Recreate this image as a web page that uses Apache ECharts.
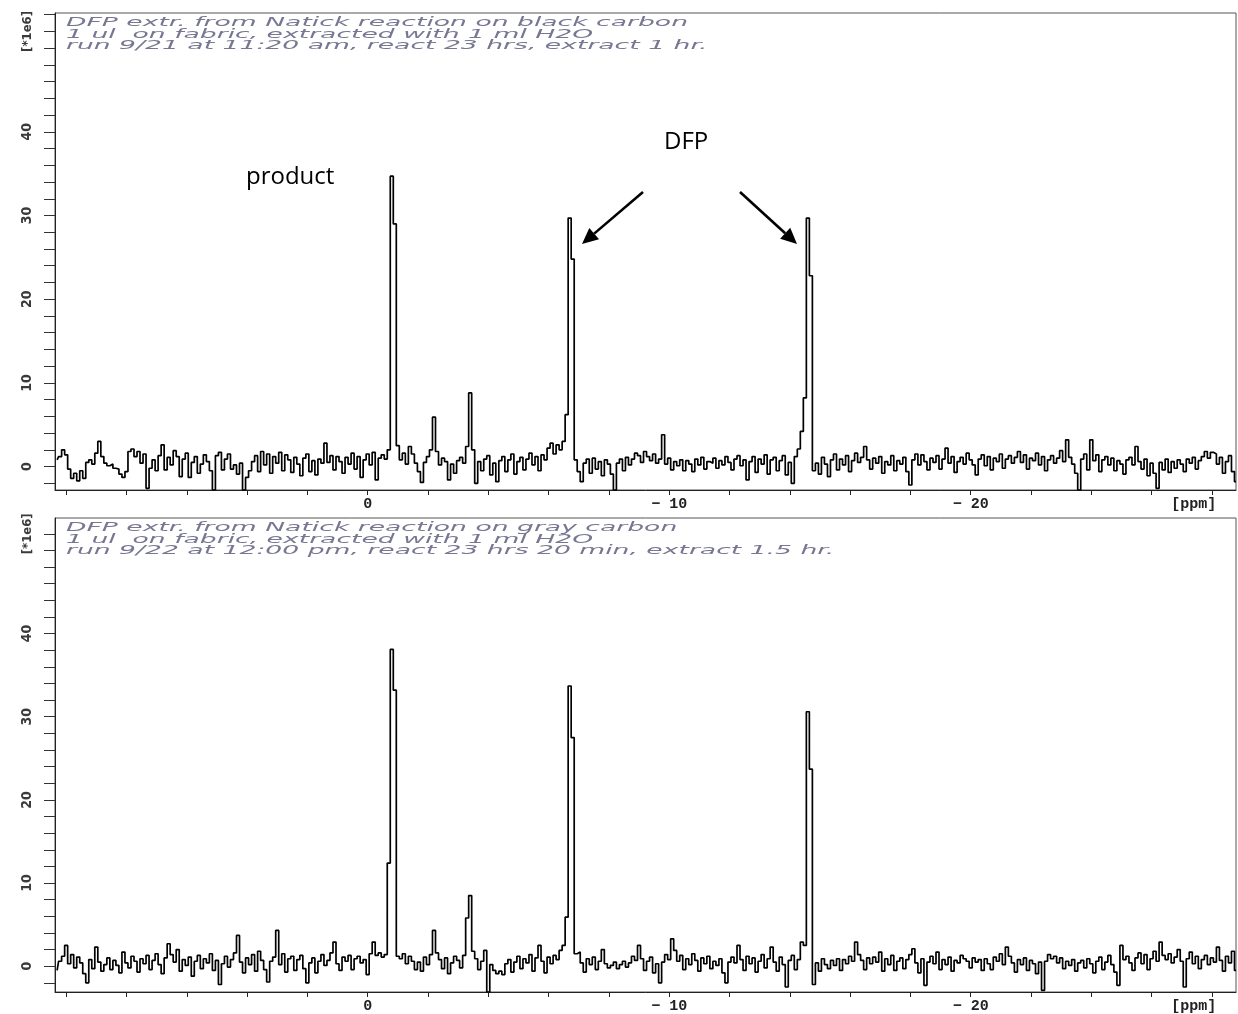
<!DOCTYPE html>
<html>
<head>
<meta charset="utf-8">
<script src="https://cdn.jsdelivr.net/npm/echarts@6/dist/echarts.min.js"></script>
<style>
html,body{margin:0;padding:0;background:#fff;}
#chart{width:1238px;height:1014px;}
</style>
</head>
<body>
<div id="chart"></div>
<script>
// ppm sampling grid (uniform NMR acquisition grid)
const ppmStart = 10.3;
const ppmStep = 0.1;

// Top panel: black carbon (intensity, *1e6)
const blackCarbon = [
 0.8, 1.2, 2.0, 1.4, -0.3, -1.4, -0.8, -1.7, -0.5, -1.4,
 0.5, 0.8, 0.3, 1.6, 3.0, 1.2, 0.4, 0.1, 0.3, -0.2,
 -0.3, -0.9, -1.3, -0.6, 1.8, 2.1, 1.2, 1.8, 0.4, 1.5,
 -2.6, -0.2, 0.8, -0.5, 1.3, 2.6, -0.4, 1.1, 0.2, 1.9,
 1.2, -1.2, 0.9, 1.6, -1.3, 0.5, 1.2, -0.8, 0.3, 1.4,
 0.6, -0.5, -2.8, 1.3, 1.7, -0.4, 0.9, 1.5, -0.3, 0.2,
 -0.9, 0.4, -2.8, -1.3, -0.5, 0.6, 1.3, -0.6, 1.8, 0.2,
 1.5, -0.8, 1.2, 0.4, 1.7, -0.5, 1.4, 0.8, -0.7, 1.1,
 0.3, -1.1, 1.0, 1.5, -0.6, 0.7, -1.0, 0.9, 0.4, 2.8,
 0.5, 1.3, -0.4, 1.2, 0.6, -0.8, 1.1, 0.3, 1.6, -0.3,
 1.2, -1.3, 0.8, 1.5, 0.2, 1.7, -1.6, 1.0, 1.4, 0.9,
 2.0, 34.7, 29.0, 2.5, 0.8, 1.6, 0.3, 2.4, 1.5, 0.4,
 -0.6, -1.9, 0.5, 1.2, 2.0, 5.9, 1.8, 0.2, 1.0, 0.6,
 -1.6, 0.3, -0.8, 0.7, 1.1, 0.4, 2.4, 8.8, 2.0, -2.0,
 0.6, -0.5, 0.9, 1.3, -1.0, 0.4, -1.8, 0.7, 1.2, -0.6,
 0.8, 1.5, -0.9, 0.6, 1.1, -0.4, 0.9, 1.6, 0.2, 1.2,
 -0.5, 1.4, 0.8, 2.2, 2.8, 1.5, 2.6, 2.0, 3.0, 6.2,
 29.7, 24.8, 0.8, -0.6, -1.8, 0.4, 0.9, -0.8, 1.0, -0.3,
 0.6, -1.1, 0.8, 0.3, -0.9, -2.8, 0.4, 0.9, -0.5, 1.1,
 0.2, 0.9, 1.6, 1.3, 0.5, 1.8, 1.2, 0.7, 1.5, 0.4,
 0.9, 3.8, 0.3, 1.0, -0.4, 0.6, 0.1, 0.8, -0.5, 0.7,
 0.3, -0.6, 0.9, 0.2, 1.1, -0.3, 0.6, 0.4, 1.0, -0.2,
 0.7, 0.2, 1.2, 0.5, -0.4, 0.9, 1.3, 0.1, 0.8, -1.6,
 0.6, 1.2, -0.7, 0.9, 0.3, 1.4, -0.9, 0.8, 1.1, -0.5,
 0.7, 1.3, -1.0, 0.5, -2.0, 1.2, 2.1, 4.2, 8.2, 29.7,
 22.8, -0.5, 0.4, -0.9, 1.1, 0.3, -1.2, 0.8, 1.5, -0.4,
 0.9, 0.2, 1.3, -0.6, 0.7, 1.6, 0.5, 1.1, 2.4, 0.8,
 -0.3, 1.0, 0.4, 1.2, -0.8, 0.6, 0.2, 1.3, -0.5, 0.7,
 0.3, 1.1, -0.6, -2.2, 0.8, 1.5, 0.2, 1.4, 0.6, -0.4,
 1.0, 0.5, 1.3, -0.3, 0.9, 2.2, 0.4, 1.2, -0.7, 0.6,
 1.1, 0.3, 1.6, 0.8, 0.2, -1.0, 0.9, 1.4, 0.1, 1.2,
 -0.4, 1.0, 0.6, 1.5, -0.2, 0.9, 1.3, 0.4, 1.1, 1.8,
 0.5, 1.4, -0.3, 1.0, 0.7, 1.6, 0.2, 1.2, -0.5, 0.8,
 1.3, 0.4, 1.0, 1.9, 0.6, 3.2, 1.1, 0.3, -0.8, -2.8,
 0.9, 1.5, -0.4, 3.2, 0.7, 1.4, -0.6, 0.8, 1.2, 0.2,
 1.0, -0.5, 0.7, 0.3, -0.9, 0.8, 1.1, 0.2, 2.4, 0.6,
 -0.3, 0.9, -1.1, 0.4, -0.8, -2.6, 0.5, -0.4, 0.9, -0.7,
 0.6, -0.2, 0.8, 0.3, -0.6, 0.9, 0.4, 1.1, -0.3, 0.7,
 1.2, 1.8, 1.0, 1.7, 1.5, 0.3, 1.1, -0.8, 0.6, 1.3,
 -0.6, -1.8
];

// Bottom panel: gray carbon (intensity, *1e6)
const grayCarbon = [
 -0.5, 0.6, 1.2, 2.5, 0.3, 1.4, -0.2, 1.1, 0.4, -0.9,
 -2.0, 0.8, -0.3, 2.3, 0.5, -0.6, 0.2, 1.0, -0.4, 0.7,
 0.1, -0.8, 1.7, 0.4, -0.2, 1.2, 0.6, -0.7, 0.9, 0.3,
 1.3, -0.4, 0.7, 1.5, 0.2, -0.9, 1.0, 2.7, 1.4, 0.5,
 2.0, -0.6, 0.8, 0.1, 1.1, -1.2, 0.6, 1.3, -0.3, 0.9,
 0.4, 1.5, -0.5, 0.7, -2.2, 0.3, 1.2, -0.1, 0.8, 1.6,
 3.7, 0.5, -0.8, 1.0, 0.2, 1.4, -0.6, 1.8, 0.7, -0.4,
 -1.9, 0.6, 1.1, 4.3, 0.2, 1.5, -0.7, 0.9, 1.2, -0.5,
 0.8, 1.3, -0.3, -2.0, 0.4, 1.0, -0.8, 0.6, 1.4, 0.1,
 0.7, 1.6, 2.9, 0.3, -0.5, 1.1, 0.6, 1.3, -0.4, 0.9,
 1.2, 0.4, 0.8, -1.0, 1.5, 2.9, 1.3, 1.6, 1.1, 1.4,
 12.4, 38.1, 33.2, 1.2, 0.9, 1.5, 0.3, 1.2, 0.6, -0.4,
 0.5, -0.6, 1.1, 0.2, 1.4, 4.3, 1.6, 0.8, -0.3, 1.0,
 -0.9, 0.4, 1.2, 0.7, -0.2, 1.3, 5.8, 8.5, 1.8, 0.9,
 -0.4, 0.6, 1.9, -3.1, 0.2, -0.5, -0.9, -0.6, -1.0, 0.3,
 0.8, -0.7, 0.5, 1.2, -0.3, 0.9, 0.4, 1.4, -0.6, 1.0,
 2.5, 0.6, -0.8, 1.1, 0.3, 1.3, 0.8, 1.9, 2.5, 5.9,
 33.7, 27.5, 1.5, 1.7, 0.4, -0.7, 0.9, 0.2, 1.1, -0.4,
 0.6, 2.0, 0.3, -0.2, 0.1, 0.5, -0.3, 0.2, 0.6, -0.1,
 0.4, 1.2, 0.7, 2.5, 0.9, -0.5, 0.6, 1.1, -0.8, 0.3,
 -2.0, 0.5, 1.4, 0.8, 3.3, 1.9, 0.6, 1.3, -0.4, 0.9,
 0.2, 1.5, 0.7, -0.6, 1.0, 0.3, 1.2, -0.3, 0.6, 0.1,
 0.9, -0.8, -2.0, 0.5, 1.1, 0.4, 2.5, 0.8, -0.5, 1.2,
 0.3, 1.0, -0.7, 0.6, 1.4, -0.2, 0.9, 2.3, 0.5, -0.6,
 1.1, 0.2, -2.5, 0.7, 1.3, -0.4, 0.8, 2.9, 2.5, 30.6,
 23.7, -2.2, 0.4, -0.6, 0.9, 0.2, -0.3, 0.7, 0.1, 0.9,
 -0.5, 0.8, 0.3, 1.2, 0.6, 2.9, 1.4, 0.7, -0.4, 1.0,
 0.3, 1.1, 0.5, 1.7, -0.6, 0.9, 0.2, 1.3, -0.5, 0.6,
 1.0, -0.3, 0.8, 1.4, 2.1, 0.4, -0.8, 0.9, -2.3, 0.5,
 1.2, 0.3, 1.7, -0.4, 0.8, 0.2, 1.1, -0.6, 0.7, 0.4,
 1.3, 0.9, 0.6, -0.2, 1.0, 0.5, 0.8, -0.5, 0.9, 0.3,
 -0.4, 1.1, 0.6, 1.5, 0.2, 2.3, 1.2, 0.4, -0.7, 0.8,
 0.2, 1.0, -0.5, 0.7, 0.3, -0.9, 0.5, -2.9, 0.6, 1.4,
 0.9, 1.2, 0.4, 1.0, -0.3, 0.6, 0.1, 0.8, -0.6, 0.4,
 0.7, -0.2, 0.9, 0.3, -0.8, 0.6, 1.1, -0.4, 0.5, 1.3,
 0.2, -0.7, -2.3, 2.5, 0.8, 1.2, 0.4, -0.5, 1.0, 1.6,
 0.3, 1.4, -0.4, 0.9, 1.8, 0.6, 2.9, 1.3, 0.8, 1.5,
 0.4, 1.1, 2.0, 0.6, -2.5, 0.9, 1.7, 0.3, 1.2, -0.3,
 0.8, 1.3, 0.2, 1.0, 0.5, 2.3, 0.7, -0.6, 1.2, 0.4,
 1.8, -0.5
];

// Axis ticks / labels
const xTickValues = [10, 8, 6, 4, 2, 0, -2, -4, -6, -8, -10, -12, -14, -16, -18, -20, -22, -24, -26, -28];
const xLabelValues = [0, -10, -20, -27.4];
const xLabelTexts = ['0', '\u2212 10', '\u2212 20', '[ppm]'];
const yTickValues = [-2, 0, 2, 4, 6, 8, 10, 12, 14, 16, 18, 20, 22, 24, 26, 28, 30, 32, 34, 36, 38, 40, 42, 44, 46, 48, 50, 52, 54];
const yLabelValues = [0, 10, 20, 30, 40, 52];
const yUnitText = '[*1e6]';

const headerTop = [
  'DFP extr. from Natick reaction on black carbon',
  '1 ul  on fabric, extracted with 1 ml H2O',
  'run 9/21 at 11:20 am, react 23 hrs, extract 1 hr.'
];
const headerBottom = [
  'DFP extr. from Natick reaction on gray carbon',
  '1 ul  on fabric, extracted with 1 ml H2O',
  'run 9/22 at 12:00 pm, react 23 hrs 20 min, extract 1.5 hr.'
];
const productLabel = 'product';
const dfpLabel = 'DFP';

function toPairs(vals) {
  return vals.map((v, i) => [+(ppmStart - ppmStep * i).toFixed(2), v]);
}

const chart = echarts.init(document.getElementById('chart'), null, {renderer: 'canvas'});

const grids = [
  {left: 55, top: 13, width: 1181, height: 477},
  {left: 55, top: 518, width: 1181, height: 479}
];
const yRanges = [[-2.8, 54.2], [-3.1, 53.9]];

function xAxisFor(idx) {
  return {
    gridIndex: idx, type: 'value', min: -28.8, max: 10.37, inverse: true,
    splitLine: {show: false},
    axisLine: {show: true, onZero: false, lineStyle: {color: '#222', width: 1}},
    axisTick: {show: true, customValues: xTickValues, length: 5, lineStyle: {color: '#222'}},
    axisLabel: {
      show: true, customValues: xLabelValues, margin: 7,
      fontFamily: '"Liberation Mono", "DejaVu Sans Mono", monospace', fontWeight: 'bold', fontSize: 15, color: '#222',
      formatter: function (v) {
        const k = xLabelValues.findIndex(t => Math.abs(t - v) < 1e-6);
        return k >= 0 ? xLabelTexts[k] : '';
      }
    }
  };
}
function yAxisFor(idx) {
  return {
    gridIndex: idx, type: 'value', min: yRanges[idx][0], max: yRanges[idx][1],
    splitLine: {show: false},
    axisLine: {show: true, onZero: false, lineStyle: {color: '#222', width: 1}},
    axisTick: {show: true, customValues: yTickValues, length: 11, lineStyle: {color: '#333'}},
    axisLabel: {
      show: true, customValues: yLabelValues, rotate: 90, margin: 21,
      fontFamily: '"DejaVu Sans Condensed", "DejaVu Sans", sans-serif', fontWeight: 'bold', fontSize: 14, color: '#3a3a3a',
      formatter: function (v) {
        if (Math.abs(v - 52) < 1e-6) return '{u|' + yUnitText + '}';
        return String(v);
      },
      rich: {u: {fontSize: 13, fontWeight: 'bold', fontFamily: '"DejaVu Sans Condensed", "DejaVu Sans", sans-serif', color: '#3a3a3a'}}
    }
  };
}

// header text scaling to match the wide rendering of the original
const headerFont = 'italic 12px "DejaVu Sans"';
const mctx = document.createElement('canvas').getContext('2d');
mctx.font = headerFont;
const hScale = 622 / mctx.measureText(headerTop[0]).width;

function headerGraphics(lines, top) {
  return lines.map((t, k) => ({
    type: 'text', x: 66, y: top + 10 + k * 11.5, scaleX: hScale, scaleY: 1, silent: true,
    style: {text: t, x: 0, y: 0, font: headerFont, fill: '#777792', textAlign: 'left', textVerticalAlign: 'middle'}
  }));
}

function arrow(sx, sy, tx, ty) {
  const dx = tx - sx, dy = ty - sy, L = Math.hypot(dx, dy);
  const ux = dx / L, uy = dy / L, hl = 16, hw = 7.5;
  const bx = tx - hl * ux, by = ty - hl * uy;
  const nx = -uy, ny = ux;
  return [
    {type: 'line', silent: true, shape: {x1: sx, y1: sy, x2: bx, y2: by}, style: {stroke: '#000', lineWidth: 2.6}},
    {type: 'polygon', silent: true, shape: {points: [[tx, ty], [bx + hw * nx, by + hw * ny], [bx - hw * nx, by - hw * ny]]}, style: {fill: '#000'}}
  ];
}

const graphics = []
  .concat(headerGraphics(headerTop, 13))
  .concat(headerGraphics(headerBottom, 518))
  .concat([
    {type: 'text', x: 246, y: 177, silent: true, style: {text: productLabel, font: '24px "Open Sans", "Noto Sans", sans-serif', fill: '#000', textAlign: 'left', textVerticalAlign: 'middle'}},
    {type: 'text', x: 664, y: 142, silent: true, style: {text: dfpLabel, font: '24px "Open Sans", "Noto Sans", sans-serif', fill: '#000', textAlign: 'left', textVerticalAlign: 'middle'}}
  ])
  .concat(arrow(643, 192, 582, 244))
  .concat(arrow(740, 192, 797, 244));

const option = {
  animation: false,
  backgroundColor: '#fff',
  grid: grids.map(g => Object.assign({show: true, borderColor: '#555', borderWidth: 1, backgroundColor: 'transparent'}, g)),
  xAxis: [xAxisFor(0), xAxisFor(1)],
  yAxis: [yAxisFor(0), yAxisFor(1)],
  series: [
    {name: 'black carbon', type: 'line', xAxisIndex: 0, yAxisIndex: 0, step: 'middle', symbol: 'none',
     lineStyle: {color: '#000', width: 1.7}, data: toPairs(blackCarbon)},
    {name: 'gray carbon', type: 'line', xAxisIndex: 1, yAxisIndex: 1, step: 'middle', symbol: 'none',
     lineStyle: {color: '#000', width: 1.7}, data: toPairs(grayCarbon)}
  ],
  graphic: graphics
};
chart.setOption(option);
</script>
</body>
</html>
